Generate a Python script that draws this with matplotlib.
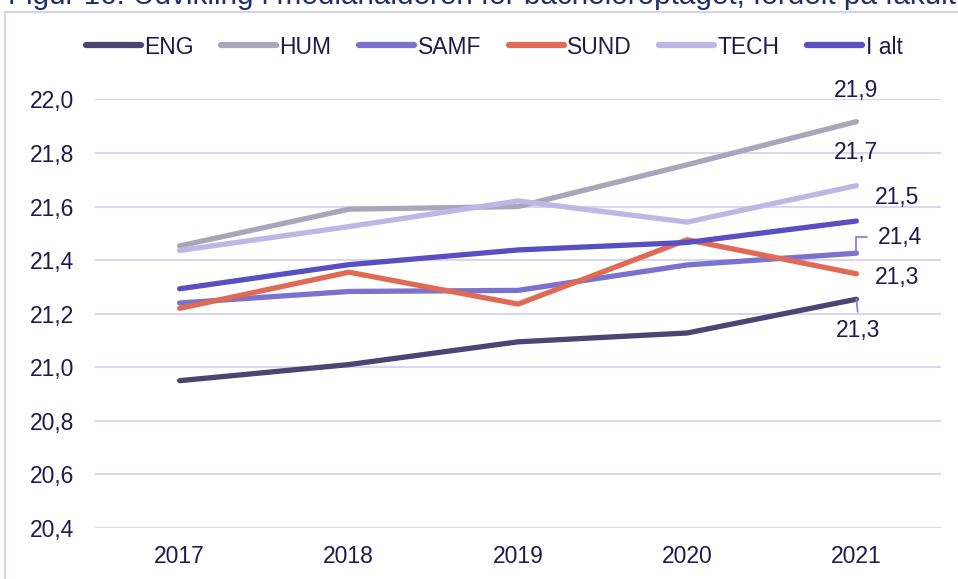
import numpy as np
import matplotlib
matplotlib.use("Agg")
import matplotlib.pyplot as plt
from matplotlib.patches import Rectangle

plt.rcParams['font.family'] = ['Liberation Sans', 'DejaVu Sans']

years = ['2017', '2018', '2019', '2020', '2021']
eng = [20.95, 21.01, 21.095, 21.128, 21.254]
hum = [21.453, 21.59, 21.60, 21.756, 21.917]
samf = [21.24, 21.283, 21.287, 21.382, 21.426]
sund = [21.22, 21.355, 21.236, 21.476, 21.349]
tech = [21.436, 21.525, 21.621, 21.542, 21.678]
i_alt = [21.293, 21.383, 21.438, 21.466, 21.546]

names = ['ENG', 'HUM', 'SAMF', 'SUND', 'TECH', 'I alt']
series = [eng, hum, samf, sund, tech, i_alt]
colors = ['#4b4573', '#a9a6b9', '#7b72cf', '#e06a53', '#bcb7e5', '#5a4fc2']

title = 'Figur 16: Udvikling i medianalderen for bacheloroptaget, fordelt på fakultet'
txt_col = '#1e1a4d'

W, H = 958, 579
fig = plt.figure(figsize=(W / 100, H / 100), dpi=100)
ax = fig.add_axes([95 / W, 1 - 528 / H, (941 - 95) / W, (528 - 99.4) / H])

x = np.arange(len(years))
for name, vals, c in zip(names, series, colors):
    ax.plot(x, vals, color=c, lw=3.8, label=name, solid_capstyle='round',
            solid_joinstyle='round', zorder=3)

ax.set_xlim(-0.5, len(years) - 0.5)
ax.set_ylim(20.4, 22.0)
ax.set_yticks(np.arange(20.4, 22.01, 0.2))
ax.set_yticklabels([f'{v:.1f}'.replace('.', ',') for v in np.arange(20.4, 22.01, 0.2)])
ax.set_xticks(x)
ax.set_xticklabels(years)
ax.grid(axis='y', color='#d9d5f2', lw=1.5, zorder=0)
for s in ax.spines.values():
    s.set_visible(False)
ax.tick_params(axis='both', length=0, labelsize=16.5, labelcolor=txt_col)
ax.tick_params(axis='y', pad=15)
ax.tick_params(axis='x', pad=12)

# data labels for the last year
last = len(years) - 1
lbl_kw = dict(textcoords='offset pixels', ha='center', va='center',
              fontsize=16.5, color=txt_col, annotation_clip=False)
lead = dict(arrowstyle='-', color='#8a83d6', lw=1.3)


def lab(vals):
    return f'{vals[last]:.1f}'.replace('.', ',')


ax.annotate(lab(hum), (last, hum[last]), xytext=(0, 31), **lbl_kw)
ax.annotate(lab(tech), (last, tech[last]), xytext=(0, 33), **lbl_kw)
ax.annotate(lab(i_alt), (last, i_alt[last]), xytext=(41, 24), **lbl_kw)
ax.annotate(lab(samf), (last, samf[last]), xytext=(44, 16),
            arrowprops=dict(connectionstyle='angle,angleA=0,angleB=90,rad=0',
                            relpos=(0, 0.5), shrinkA=6, shrinkB=0, **lead), **lbl_kw)
ax.annotate(lab(sund), (last, sund[last]), xytext=(41, -4), **lbl_kw)
ax.annotate(lab(eng), (last, eng[last]), xytext=(2, -31),
            arrowprops=dict(relpos=(0.5, 1), shrinkA=3, shrinkB=0, **lead), **lbl_kw)

leg = fig.legend(loc='center', bbox_to_anchor=(494 / W, 1 - 47 / H), ncol=6,
                 frameon=False, fontsize=16.5, handlelength=2.4, handletextpad=0.15,
                 columnspacing=1.2)
for t in leg.get_texts():
    t.set_color(txt_col)
for h in leg.legend_handles:
    h.set_linewidth(4.5)
    h.set_solid_capstyle('round')

# chart frame and caption cut off at the top (as in the source page)
fig.patches.append(Rectangle((5 / W, -0.2), 1.2, 1.2 - 12 / H, transform=fig.transFigure,
                             fill=False, edgecolor='#d6d3ee', lw=1.5))
fig.text(8 / W, 1 - 3.5 / H, title, va='baseline', ha='left', fontsize=21.3, color='#1f2f6b')

fig.savefig('out.png', dpi=100)
